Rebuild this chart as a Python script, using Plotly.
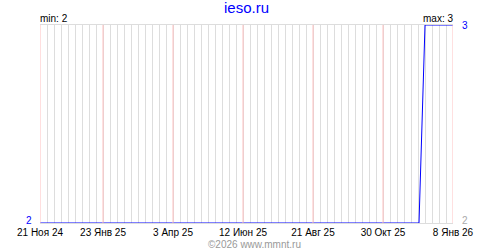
import plotly.graph_objects as go

# Data
dates = ["2024-11-21", "2025-12-05", "2025-12-11", "2026-01-08"]
values = [2, 2, 3, 3]
tick_dates = ["2024-11-21", "2025-01-23", "2025-04-03", "2025-06-12", "2025-08-21", "2025-10-30", "2026-01-08"]
tick_labels = ["21 Ноя 24", "23 Янв 25", "3 Апр 25", "12 Июн 25", "21 Авг 25", "30 Окт 25", "8 Янв 26"]
vmin, vmax = 2, 3
title = "ieso.ru"
footer = "©2026 www.mmnt.ru"

FONT = "Liberation Sans"

fig = go.Figure()
fig.add_trace(go.Scatter(x=dates, y=values, mode="lines",
                         line=dict(color="#0000ff", width=1), hoverinfo="skip"))

shapes = [dict(type="line", xref="x", yref="paper", x0=d, x1=d, y0=0, y1=1,
               line=dict(color="#ffc0c0", width=1), layer="above")
          for d in tick_dates]

fig.update_layout(
    width=500, height=250,
    margin=dict(l=40, r=47, t=25, b=25),
    plot_bgcolor="white", paper_bgcolor="white",
    showlegend=False,
    font=dict(family=FONT, size=10, color="black"),
    shapes=shapes,
    xaxis=dict(
        type="date",
        range=[dates[0], tick_dates[-1]],
        tickmode="array", tickvals=tick_dates, ticktext=tick_labels,
        showgrid=False,
        minor=dict(dtick=7 * 86400000, tick0="2024-11-21", showgrid=True,
                   gridcolor="#dddddd", gridwidth=1),
        ticks="", tickfont=dict(family=FONT, size=10, color="black"),
        ticklabelstandoff=0,
        showline=True, linecolor="#dddddd", linewidth=1, mirror=True,
        zeroline=False, fixedrange=True, layer="below traces",
    ),
    yaxis=dict(
        range=[vmin, vmax], showgrid=False, showticklabels=False,
        zeroline=False, ticks="", fixedrange=True,
    ),
    annotations=[
        dict(text=title, x=0.5, y=1, xref="paper", yref="paper", yanchor="bottom",
             yshift=7, showarrow=False, font=dict(family=FONT, size=15, color="#0000ff")),
        dict(text="min: %d" % vmin, x=0, y=1, xref="paper", yref="paper",
             xanchor="left", yanchor="bottom", xshift=-2, yshift=-1, showarrow=False,
             font=dict(family=FONT, size=10, color="black")),
        dict(text="max: %d" % vmax, x=1, y=1, xref="paper", yref="paper",
             xanchor="right", yanchor="bottom", xshift=2, yshift=-1, showarrow=False,
             font=dict(family=FONT, size=10, color="black")),
        dict(text=str(vmin), x=0, y=vmin, xref="paper", yref="y",
             xanchor="right", yanchor="middle", xshift=-6, yshift=3, showarrow=False,
             font=dict(family=FONT, size=10, color="#0000ff")),
        dict(text=str(vmax), x=1, y=vmax, xref="paper", yref="y",
             xanchor="left", yanchor="middle", xshift=7, showarrow=False,
             font=dict(family=FONT, size=10, color="#0000ff")),
        dict(text=str(vmin), x=1, y=vmin, xref="paper", yref="y",
             xanchor="left", yanchor="middle", xshift=7, yshift=3, showarrow=False,
             font=dict(family=FONT, size=10, color="#aaaaaa")),
        dict(text=footer, x=0.52, y=0, xref="paper", yref="paper", yanchor="top",
             yshift=-14, showarrow=False, font=dict(family=FONT, size=10, color="#999999")),
    ],
)

fig.write_html("out.html", config={"displayModeBar": False})
